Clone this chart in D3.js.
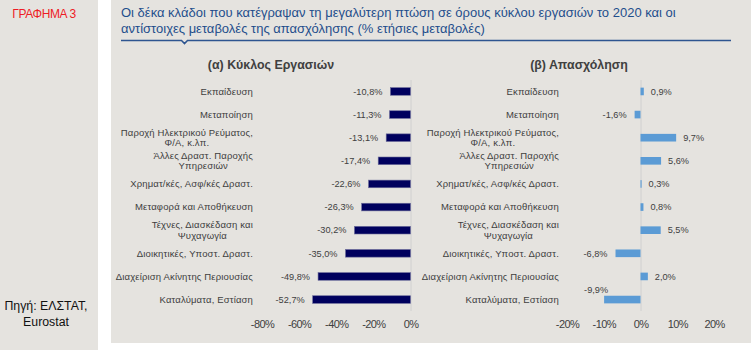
<!DOCTYPE html>
<html>
<head>
<meta charset="utf-8">
<script src="https://cdn.jsdelivr.net/npm/d3@7/dist/d3.min.js"></script>
<style>
  html, body { margin: 0; padding: 0; background: #ffffff; }
  svg { display: block; font-family: "Liberation Sans", Arial, sans-serif; }
</style>
</head>
<body>
<svg id="chart" width="751" height="350"></svg>
<script>
// ---------- data ----------
const categories = [
  "Εκπαίδευση",
  "Μεταποίηση",
  "Παροχή Ηλεκτρικού Ρεύματος,\nΦ/Α, κ.λπ.",
  "Άλλες Δραστ. Παροχής\nΥπηρεσιών",
  "Χρηματ/κές, Ασφ/κές Δραστ.",
  "Μεταφορά και Αποθήκευση",
  "Τέχνες, Διασκέδαση και\nΨυχαγωγία",
  "Διοικητικές, Υποστ. Δραστ.",
  "Διαχείριση Ακίνητης Περιουσίας",
  "Καταλύματα, Εστίαση"
];
const turnoverChange = [-10.8, -11.3, -13.1, -17.4, -22.6, -26.3, -30.2, -35.0, -49.8, -52.7];
const employmentChange = [0.9, -1.6, 9.7, 5.6, 0.3, 0.8, 5.5, -6.8, 2.0, -9.9];
const turnoverTicks = [-80, -60, -40, -20, 0];
const employmentTicks = [-20, -10, 0, 10, 20];
const titleLines = [
  "Οι δέκα κλάδοι που κατέγραψαν τη μεγαλύτερη πτώση σε όρους κύκλου εργασιών το 2020 και οι",
  "αντίστοιχες μεταβολές της απασχόλησης (% ετήσιες μεταβολές)"
];
const panelTitles = ["(α) Κύκλος Εργασιών", "(β) Απασχόληση"];
const chartLabel = "ΓΡΑΦΗΜΑ 3";
const sourceLines = ["Πηγή: ΕΛΣΤΑΤ,", "Eurostat"];

// ---------- setup ----------
const svg = d3.select("#chart");
const bg = "#e5e3df";
const textCol = "#404040";

const grLocale = d3.formatLocale({decimal: ",", thousands: ".", grouping: [3], currency: ["", "€"], minus: "-"});
const fmtVal = grLocale.format(".1f");
const fmtTick = grLocale.format(".0f");

// backgrounds
svg.append("rect").attr("x", 0).attr("y", 0).attr("width", 98).attr("height", 350).attr("fill", bg);
svg.append("rect").attr("x", 111).attr("y", 0).attr("width", 640).attr("height", 343).attr("fill", bg);

// left panel texts
svg.append("text").attr("x", 44).attr("y", 18).attr("text-anchor", "middle")
  .attr("font-size", 12).attr("fill", "#ee1c25").attr("letter-spacing", -0.4).text(chartLabel);
svg.append("g").selectAll("text").data(sourceLines).join("text")
  .attr("x", 46).attr("y", (d, i) => 310 + i * 16).attr("text-anchor", "middle")
  .attr("font-size", 12.3).attr("fill", "#111").text(d => d);

// title
svg.append("g").selectAll("text").data(titleLines).join("text")
  .attr("x", 121).attr("y", (d, i) => 17 + i * 16)
  .attr("font-size", 13).attr("fill", "#1f4e8c").text(d => d);
svg.append("path")
  .attr("d", "M121,40.5 H181.5 L184.5,43.5 L187.5,40.5 H731")
  .attr("fill", "none").attr("stroke", "#2e5590").attr("stroke-width", 1.6);

// ---------- panels ----------
const y = d3.scaleBand().domain(d3.range(categories.length)).range([80, 311]).paddingInner(0.67).paddingOuter(0.33);
const catFont = 9.5;

function drawPanel(opts) {
  const g = svg.append("g");
  const x = d3.scaleLinear().domain(opts.domain).range(opts.range);

  // panel title
  g.append("text").attr("x", opts.titleX).attr("y", 69).attr("text-anchor", "middle")
    .attr("font-size", 12.4).attr("font-weight", "bold").attr("fill", textCol).text(opts.title);

  // category labels
  categories.forEach((c, i) => {
    const lines = c.split("\n");
    const cy = y(i) + y.bandwidth() / 2;
    if (lines.length === 1) {
      g.append("text").attr("font-size", catFont).attr("fill", textCol).attr("letter-spacing", 0.15)
        .attr("x", opts.labelRight).attr("y", cy + 3.3).attr("text-anchor", "end").text(lines[0]);
    } else {
      const widths = lines.map(l => {
        const tt = g.append("text").attr("font-size", catFont).attr("letter-spacing", 0.15).text(l);
        const w = tt.node().getComputedTextLength(); tt.remove(); return w;
      });
      const cx = opts.labelRight - d3.max(widths) / 2;
      lines.forEach((l, k) => {
        g.append("text").attr("font-size", catFont).attr("fill", textCol).attr("letter-spacing", 0.15)
          .attr("x", cx).attr("y", cy + 3.3 + (k - 0.5) * 10.5)
          .attr("text-anchor", "middle").text(l);
      });
    }
  });

  // zero line
  g.append("line").attr("x1", x(0) + 0.5).attr("x2", x(0) + 0.5).attr("y1", 80).attr("y2", 311)
    .attr("stroke", "#d0d0d0").attr("stroke-width", 1);

  // bars
  g.selectAll("rect.bar").data(opts.values).join("rect").attr("class", "bar")
    .attr("x", d => x(Math.min(0, d)))
    .attr("width", d => Math.abs(x(d) - x(0)))
    .attr("y", (d, i) => y(i))
    .attr("height", y.bandwidth())
    .attr("fill", opts.color)
    .attr("stroke", opts.stroke).attr("stroke-width", opts.stroke === "none" ? 0 : 0.6);

  // value labels
  g.selectAll("text.val").data(opts.values).join("text").attr("class", "val")
    .attr("font-size", 9.2).attr("fill", textCol)
    .each(function (d, i) {
      const el = d3.select(this);
      const cy = y(i) + y.bandwidth() / 2;
      el.text(fmtVal(d) + "%");
      if (d >= 0) {
        el.attr("x", x(d) + 7).attr("y", cy + 3.2).attr("text-anchor", "start");
      } else {
        const w = this.getComputedTextLength();
        const xr = x(d) - 8;
        if (xr - w < opts.range[0] + 8) {
          // little room beside the bar: place above its end
          el.attr("x", x(d) + 4).attr("y", y(i) - 3).attr("text-anchor", "end");
        } else {
          el.attr("x", xr).attr("y", cy + 3.2).attr("text-anchor", "end");
        }
      }
    });

  // axis
  const axis = d3.axisBottom(x).tickValues(opts.ticks).tickSize(0).tickPadding(0)
    .tickFormat(d => fmtTick(d) + "%");
  const ag = g.append("g").attr("transform", "translate(0,328)").call(axis);
  ag.select(".domain").remove();
  ag.selectAll("text").attr("font-size", 11).attr("fill", textCol)
    .attr("font-family", "'Liberation Sans', Arial, sans-serif")
    .attr("letter-spacing", -0.6).attr("dy", 0);
}

drawPanel({
  domain: [-80, 0], range: [262, 410.5], values: turnoverChange, ticks: turnoverTicks,
  color: "#00005e", stroke: "#6b6b9a", labelRight: 253, title: panelTitles[0], titleX: 271
});
drawPanel({
  domain: [-20, 20], range: [567, 714], values: employmentChange, ticks: employmentTicks,
  color: "#5b9bd5", stroke: "none", labelRight: 559, title: panelTitles[1], titleX: 579
});
</script>
</body>
</html>
